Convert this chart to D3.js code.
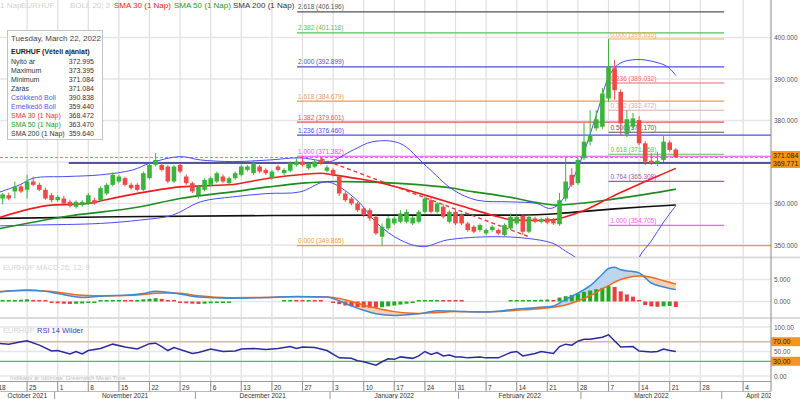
<!DOCTYPE html>
<html>
<head>
<meta charset="utf-8">
<title>EURHUF napi</title>
<script src="https://d3js.org/d3.v7.min.js"></script>
<style>
  body { margin: 0; background: #fff; }
  svg { font-family: "Liberation Sans", Arial, sans-serif; }
</style>
</head>
<body>
<script>

// ---------- data ----------
// daily candles, index 0 = 2021-10-18 ... index 111 = 2022-03-22
var open = [361.0,361.2,362.0,362.9,364.1,363.3,365.3,364.5,363.3,362.0,
  360.8,361.2,360.4,359.2,359.6,360.0,360.8,360.8,362.4,364.5,
  365.3,366.1,364.5,364.5,363.3,366.1,369.3,369.3,368.9,365.3,
  369.3,366.5,364.9,362.0,363.3,364.5,365.3,366.5,364.9,366.1,
  366.9,368.1,367.3,368.9,368.1,366.1,368.9,367.3,367.9,369.3,
  370.1,368.5,368.9,370.5,367.9,368.1,366.5,362.4,361.2,360.0,
  358.8,358.4,356.8,352.0,354.0,355.2,355.6,355.6,355.2,355.6,
  358.0,360.8,358.0,359.2,355.6,358.0,357.2,355.2,354.4,353.6,
  352.8,353.6,353.6,352.4,354.0,355.2,357.0,353.2,356.4,355.6,
  356.4,356.0,355.0,361.2,366.9,364.9,370.9,374.9,378.1,378.5,
  385.3,392.6,386.9,376.7,378.5,380.1,374.5,370.3,369.7,370.5,
  374.7,372.995];
var high = [362.6,362.5,362.6,365.3,364.6,366.9,366.5,365.0,363.8,362.5,
  362.0,361.8,360.9,360.8,360.8,362.5,361.4,364.1,364.9,367.5,
  366.9,366.5,365.0,364.9,367.7,369.7,372.2,369.8,369.3,369.3,
  369.7,367.0,365.3,364.5,366.1,366.5,367.7,367.0,366.5,367.7,
  369.3,369.3,370.5,369.3,368.5,368.1,369.3,368.5,370.1,370.9,
  371.5,369.9,370.5,371.3,369.2,368.5,366.9,362.9,361.6,360.4,
  359.2,358.9,357.2,355.2,357.0,356.9,358.4,358.6,357.0,358.4,
  362.0,361.4,360.4,359.8,358.4,358.5,357.6,355.6,354.8,355.2,
  354.0,354.8,354.0,355.2,357.6,357.2,357.4,357.2,356.8,356.6,
  356.8,356.5,362.5,371.3,368.5,371.0,379.4,382.5,382.5,387.8,
  399.635,394.6,387.5,382.5,381.8,381.0,375.0,372.1,372.5,376.3,
  375.2,373.395];
var low = [360.3,359.8,360.8,361.2,362.5,361.2,364.2,363.0,360.9,360.3,
  360.4,359.7,359.0,358.8,359.2,359.6,359.7,360.4,362.0,364.1,
  364.9,364.1,363.3,362.9,363.0,365.8,368.9,367.7,364.9,364.9,
  367.3,364.5,362.5,361.2,362.9,364.1,364.9,364.9,364.5,365.7,
  366.5,367.7,366.9,367.3,366.9,365.7,367.7,366.9,367.5,368.9,
  368.9,368.1,368.5,369.3,367.5,366.5,361.8,360.4,359.6,358.0,
  356.8,355.8,352.4,349.865,353.6,354.8,355.2,355.2,354.8,355.2,
  357.6,357.6,357.6,356.4,355.2,354.8,354.8,353.2,352.8,353.2,
  352.4,353.2,352.4,352.0,353.6,354.8,352.4,352.8,355.2,355.2,
  355.0,354.8,354.6,360.5,364.0,364.5,370.5,374.0,377.5,378.0,
  384.5,385.0,376.5,376.0,378.0,374.0,369.3,369.3,369.0,370.0,
  372.5,371.084];
var close = [362.0,362.2,361.2,364.1,362.9,365.3,364.5,363.3,361.2,360.8,
  361.6,360.0,359.4,360.4,360.4,362.0,360.0,363.7,364.5,366.9,
  366.5,364.5,363.7,363.3,367.3,369.3,370.5,368.1,365.3,368.9,
  367.7,364.9,362.9,364.1,365.7,366.1,367.3,365.3,366.1,367.3,
  368.9,368.9,369.7,367.7,367.3,367.7,368.1,368.1,369.7,370.1,
  369.3,369.5,370.1,369.7,368.7,366.9,362.4,360.8,360.0,358.4,
  357.2,356.4,352.8,354.4,356.4,356.4,357.6,358.0,356.6,358.0,
  361.2,358.0,360.0,356.8,358.0,355.2,355.2,353.6,353.2,354.8,
  353.6,354.4,352.8,354.8,356.8,356.8,353.2,356.8,355.6,356.2,
  355.4,355.2,360.8,365.3,364.5,370.5,374.9,376.5,380.3,386.5,
  393.0,387.3,379.3,380.3,380.5,374.5,370.1,369.7,370.3,374.9,
  372.9,371.084];

// overlays as [index, value]
var sma30 = [[0,356.4],[9,359.6],[15,360.0],[17.5,360.8],[24.5,362.8],[30,364.0],[38,364.5],
  [44.5,366.1],[50,367.0],[53,367.3],[55,366.9],[59,366.0],[63,364.9],[67,363.3],[71,361.6],
  [76,359.4],[81,357.2],[84.5,356.0],[88.5,355.9],[91,356.1],[93,356.8],[96,358.3],
  [100.5,361.6],[103,363.3],[106,365.3],[108.5,366.9],[111,368.472]];
var sma50 = [[0,353.8],[11,356.8],[23.5,359.2],[30,361.2],[38.5,362.8],[44.5,364.0],[50,364.9],
  [55,365.3],[60,365.2],[65,364.9],[70,364.4],[74,363.8],[78,362.8],[81,362.2],[85,361.2],
  [88,360.3],[91.5,359.6],[95,360.0],[100.5,361.0],[106,362.2],[111,363.47]];
var sma200 = [[0,356.4],[20,356.8],[45,357.1],[63,357.2],[85,357.2],[92,357.6],[96,358.1],
  [101,358.7],[106,359.2],[111,359.64]];
var bollUpper = [[0,362.5],[3.8,364.5],[6,366.1],[11.5,366.5],[17,366.9],[22.3,368.1],[25,369.7],
  [30,371.3],[33.3,370.5],[38.6,370.1],[44.7,370.5],[49.6,371.0],[53,370.3],[54.5,370.1],
  [58.3,372.9],[61.5,374.9],[65.9,374.5],[70.3,368.9],[74.6,363.3],[78.5,360.8],[83.9,360.4],
  [88.3,360.0],[90.4,358.8],[92,360.0],[95.3,369.7],[98.1,381.7],[100.2,391.0],[101.9,393.8],
  [104.6,394.7],[107.3,394.2],[109.6,393.0],[111,390.838]];
var bollLower = [[0,354.6],[6,354.8],[17,355.2],[23.4,356.0],[28.8,357.2],[33.3,360.4],[38.6,361.6],
  [44.2,362.4],[49.6,362.8],[53.3,365.1],[54.9,364.9],[58.9,360.8],[62.2,355.2],[66,351.2],
  [69.7,349.6],[73.6,351.2],[81.1,352.0],[86.7,351.6],[90.9,350.4],[93,348.5],[95,346.5],
  [97,342],[100,336],[103,338],[105,347.0],[107,351],[109,355.5],[111,359.44]];

var trendLine = [[53,370.8],[87,352.0]];
var supportLevel = 369.771, supportFrom = 11.8;
var lastPrice = 371.084;

// fibonacci extension (from 349.865 / 371.382) and retracement (399.635 -> 354.705)
var fibExtRatio = [2.618, 2.382, 2.0, 1.618, 1.382, 1.236, 1.0, 0.0];
var fibExtValue = [406.196, 401.118, 392.899, 384.679, 379.601, 376.460, 371.382, 349.865];
var fibExtColor = ["#555555", "#55c355", "#4d4dee", "#ee9a58", "#ea4f4f", "#4d4dee", "#ff44ff", "#f39a3c"];
var fibRetRatio = [0.0, 0.236, 0.382, 0.5, 0.618, 0.764, 1.0];
var fibRetValue = [399.635, 389.032, 382.472, 377.170, 371.868, 365.308, 354.705];
var fibRetColor = ["#f6ad5c", "#ec6a6a", "#d9b0b0", "#555555", "#5cbf5c", "#aa55aa", "#f45cf4"];

// MACD 26;12;9
var macdIdx = [0,5,8,10,14,18,21,24,26,28,30,33,38,44,49,54,56,58,60,62,65,67,69,72,75,
  79,82,85,88,91,93,95,97,99,100,101,102,104,105,107,109,111];
var macdLine = [2.1,2.6,2.3,1.8,0.9,1.3,1.4,1.8,2.35,2.1,1.7,1.0,0.75,0.9,1.15,1.0,0.1,-1.0,-2.0,-2.8,
  -3.2,-3.0,-2.8,-2.1,-2.2,-2.4,-2.2,-1.7,-1.4,-1.0,0.5,1.9,3.6,6.2,7.5,7.8,7.2,6.8,6.5,4.2,3.3,2.7];
var signalLine = [2.25,2.5,2.4,2.1,1.4,1.25,1.35,1.6,1.85,1.95,1.85,1.3,0.85,0.9,1.1,1.0,0.7,0.0,-0.8,-1.5,
  -2.3,-2.6,-2.7,-2.5,-2.3,-2.35,-2.3,-2.0,-1.7,-1.3,-0.8,0.1,1.3,2.9,3.6,4.4,5.0,5.7,5.8,5.5,4.7,4.0];
var macdHist = [0.2,0.25,0.3,0.35,0.4,0.5,0.35,0.2,0.05,-0.2,
  -0.4,-0.5,-0.55,-0.5,-0.45,-0.35,-0.2,0.05,0.15,0.25,
  0.3,0.25,0.2,0.35,0.5,0.6,0.75,0.6,0.35,0.1,
  -0.2,-0.4,-0.5,-0.55,-0.5,-0.4,-0.3,-0.15,-0.05,0,
  0,0,0,0,0,0,0,0.08,0.12,0.1,
  0.05,0.08,0.05,0.02,0,-0.3,-0.6,-0.9,-1.1,-1.25,
  -1.35,-1.4,-1.45,-1.3,-1.1,-0.9,-0.7,-0.5,-0.3,0.05,
  0.2,0.3,0.35,0.25,0.2,0.15,0.1,0,0,0,
  0,0,0,0,0.1,0.2,0.25,0.3,0.35,0.4,
  0.45,0.35,0.9,1.2,1.5,1.8,2.2,2.5,2.8,3.1,
  3.5,3.3,2.3,1.6,1.1,0.15,-0.8,-1.1,-1.2,-1.1,
  -1.0,-1.25];

// RSI 14 Wilder
var rsi = [[0,67],[2,65],[4,70],[5,72],[7,63],[9,51],[10,52],[12,45],[13,50],[14,45],[15,52],[17,56],
  [19,65],[21,59],[23,55],[25,66],[26,67],[27,60],[28,52],[29,58],[32,46],[33,48],[35,55],[37,50],
  [39,51],[40,55],[42,56],[44,54],[46,56],[48,60],[49,56],[50,59],[52,58],[54,52],[56,37],[58,36],
  [59,31],[60,29],[62,22],[63,29],[64,35],[65,34],[66,39],[68,36],[69,41],[70,50],[71,44],[72,48],
  [73,41],[74,43],[75,39],[76,39],[77,37],[79,39],[80,37],[82,37],[84,48],[85,50],[86,41],[88,46],
  [89,50],[91,46],[92,60],[93,65],[94,63],[95,71],[96,75],[97,75],[99,79],[100,84],[102,59],[104,60],
  [105,51],[107,49],[108,50],[109,55],[110,52],[111,50]];

// axis
var priceTicks = [350, 360, 370, 380, 390, 400];
var dayTicks = [0,5,10,15,20,25,30,35,40,45,50,55,60,65,70,75,80,85,90,95,100,105,110,115,122];
var dayLabels = ["18","25","1","8","15","22","29","6","13","20","27","3","10","17","24","31",
  "7","14","21","28","7","14","21","28","4"];
var monthBreaks = [9.5, 32.5, 54.5, 75.5, 95.5, 118.5];
var monthLabels = ["October 2021","November 2021","December 2021","January 2022",
  "February 2022","March 2022","April 2022"];

var legendNames = ["Nyitó ár","Maximum","Minimum","Zárás","Csökkenő Boll","Emelkedő Boll",
  "SMA 30  (1 Nap)","SMA 50  (1 Nap)","SMA 200  (1 Nap)"];
var legendValues = ["372.995","373.395","371.084","371.084","390.838","359.440","368.472","363.470","359.640"];
var legendColors = ["#333","#333","#333","#333","#5555ee","#5555ee","#ee3333","#229922","#333"];

// ---------- layout ----------
var width = 800, height = 399, plotRight = 771;
var green = "#3cb43c", red = "#ef4a4a";

var x = d3.scaleLinear().domain([0, 115]).range([-3.5, 700.3]);
var yP = d3.scaleLinear().domain([350, 400]).range([245, 37.5]);
var yM = d3.scaleLinear().domain([0, 5]).range([301.5, 279.5]);
var yR = d3.scaleLinear().domain([0, 100]).range([376, 327]);

var svg = d3.select("body").append("svg")
  .attr("width", width)
  .attr("height", height);

var defs = svg.append("defs");
function clip(id, y0, y1) {
  defs.append("clipPath").attr("id", id).append("rect")
    .attr("x", 0).attr("y", y0).attr("width", plotRight).attr("height", y1 - y0);
}
clip("clipMain", 0, 257);
clip("clipMacd", 259, 317);
clip("clipRsi", 320, 381);
clip("clipAxis", 380, 399);

// grid
var grid = svg.append("g");
grid.selectAll(".vg").data(dayTicks).enter().append("line")
  .attr("x1", function(d){ return x(d); }).attr("x2", function(d){ return x(d); })
  .attr("y1", 0).attr("y2", 391.5)
  .style("stroke", "#dedede").style("stroke-width", 1.2);
grid.selectAll(".hg").data(priceTicks).enter().append("line")
  .attr("x1", 0).attr("x2", plotRight)
  .attr("y1", function(d){ return yP(d); }).attr("y2", function(d){ return yP(d); })
  .style("stroke", "#e6e6e6").style("stroke-width", 1.5);
[0, 5].forEach(function(v){
  grid.append("line").attr("x1", 0).attr("x2", plotRight).attr("y1", yM(v)).attr("y2", yM(v))
    .style("stroke", "#e6e6e6").style("stroke-width", 1.5);
});
[0, 50, 100].forEach(function(v){
  grid.append("line").attr("x1", 0).attr("x2", plotRight).attr("y1", yR(v)).attr("y2", yR(v))
    .style("stroke", "#e6e6e6").style("stroke-width", 1.5);
});
// panel separators
[257.5, 318].forEach(function(y){
  grid.append("line").attr("x1", 0).attr("x2", width).attr("y1", y).attr("y2", y)
    .style("stroke", "#dcdcdc").style("stroke-width", 2);
});

// ---------- main panel ----------
var main = svg.append("g").attr("clip-path", "url(#clipMain)");

var idxLine = function(scale) {
  return d3.line().x(function(d){ return x(d[0]); }).y(function(d){ return scale(d[1]); });
};

// fibonacci lines
var longExt = [1.236, 1.0, 0.0];
fibExtRatio.forEach(function(r, k) {
  var yy = yP(fibExtValue[k]);
  main.append("line")
    .attr("x1", x(49.1)).attr("x2", longExt.indexOf(r) >= 0 ? plotRight : x(118.9))
    .attr("y1", yy).attr("y2", yy)
    .style("stroke", fibExtColor[k]).style("stroke-width", 1.2);
  main.append("text").attr("x", x(49.1) + 1).attr("y", yy - 2.5)
    .style("font-size", "6.5px").style("fill", fibExtColor[k])
    .text(d3.format(".3f")(r) + " (" + d3.format(".3f")(fibExtValue[k]) + ")");
});
fibRetRatio.forEach(function(r, k) {
  var yy = yP(fibRetValue[k]);
  main.append("line")
    .attr("x1", x(100)).attr("x2", x(118.9))
    .attr("y1", yy).attr("y2", yy)
    .style("stroke", fibRetColor[k]).style("stroke-width", 1.2);
  main.append("text").attr("x", x(100) + 2).attr("y", yy - 2.5)
    .style("font-size", "6.5px").style("fill", fibRetColor[k])
    .text(d3.format(".3f")(r) + " (" + d3.format(".3f")(fibRetValue[k]) + ")");
});

// support line and last price
main.append("line")
  .attr("x1", x(supportFrom)).attr("x2", plotRight)
  .attr("y1", yP(supportLevel)).attr("y2", yP(supportLevel))
  .style("stroke", "#1d2380").style("stroke-width", 1.6);
main.append("line")
  .attr("x1", 0).attr("x2", plotRight)
  .attr("y1", yP(lastPrice)).attr("y2", yP(lastPrice))
  .style("stroke", "#f07a7a").style("stroke-width", 1).style("stroke-dasharray", "3,2");

// moving averages and bollinger
var curve = d3.curveMonotoneX;
main.append("path").attr("d", idxLine(yP).curve(curve)(sma200))
  .style("fill", "none").style("stroke", "#111").style("stroke-width", 1.6);
main.append("path").attr("d", idxLine(yP).curve(curve)(sma50))
  .style("fill", "none").style("stroke", "#1e8c1e").style("stroke-width", 1.6);
main.append("path").attr("d", idxLine(yP).curve(curve)(sma30))
  .style("fill", "none").style("stroke", "#ee1c1c").style("stroke-width", 1.6);
[bollUpper, bollLower].forEach(function(b){
  main.append("path").attr("d", idxLine(yP).curve(d3.curveCatmullRom)(b))
    .style("fill", "none").style("stroke", "#4a4af2").style("stroke-width", 1);
});

// trend line
main.append("path").attr("d", idxLine(yP)(trendLine))
  .style("fill", "none").style("stroke", "#e23a3a").style("stroke-width", 1.4)
  .style("stroke-dasharray", "4,3");

// candles
var candles = main.selectAll(".candle").data(open).enter().append("g");
candles.append("line")
  .attr("x1", function(d, i){ return x(i); }).attr("x2", function(d, i){ return x(i); })
  .attr("y1", function(d, i){ return yP(high[i]); })
  .attr("y2", function(d, i){ return yP(low[i]); })
  .style("stroke", function(d, i){ return close[i] >= open[i] ? green : red; })
  .style("stroke-width", 1);
candles.append("rect")
  .attr("x", function(d, i){ return x(i) - 2.3; })
  .attr("width", 4.6)
  .attr("y", function(d, i){ return yP(Math.max(open[i], close[i])); })
  .attr("height", function(d, i){ return Math.max(1, Math.abs(yP(open[i]) - yP(close[i]))); })
  .style("fill", function(d, i){ return close[i] >= open[i] ? green : red; });

// ---------- MACD panel ----------
var macd = svg.append("g").attr("clip-path", "url(#clipMacd)");
var mPts = macdIdx.map(function(d, k){ return { i: d, m: macdLine[k], s: signalLine[k] }; });

macd.append("path").datum(mPts)
  .attr("d", d3.area().curve(curve)
    .x(function(d){ return x(d.i); })
    .y0(function(d){ return yM(d.s); })
    .y1(function(d){ return yM(Math.max(d.m, d.s)); }))
  .style("fill", "#bcd6ef");
macd.append("path").datum(mPts)
  .attr("d", d3.area().curve(curve)
    .x(function(d){ return x(d.i); })
    .y0(function(d){ return yM(d.s); })
    .y1(function(d){ return yM(Math.min(d.m, d.s)); }))
  .style("fill", "#f9cfb3");

// histogram, coloured by direction vs previous bar
var histBars = macdHist.map(function(v, i){
  return { i: i, v: v, up: i === 0 || v >= macdHist[i - 1] };
}).filter(function(d){ return Math.abs(d.v) > 0.01; });

macd.selectAll(".hist").data(histBars).enter().append("rect")
  .attr("x", function(d){ return x(d.i) - 2; })
  .attr("width", 4)
  .attr("y", function(d){ return d.v >= 0 ? Math.min(yM(d.v), yM(0) - 1.5) : yM(0); })
  .attr("height", function(d){ return Math.max(1.5, Math.abs(yM(d.v) - yM(0))); })
  .style("fill", function(d){ return d.up ? "#1faa1f" : "#ee3b3b"; });

macd.append("path").datum(mPts)
  .attr("d", d3.line().curve(curve).x(function(d){ return x(d.i); }).y(function(d){ return yM(d.s); }))
  .style("fill", "none").style("stroke", "#f06a1a").style("stroke-width", 1.5);
macd.append("path").datum(mPts)
  .attr("d", d3.line().curve(curve).x(function(d){ return x(d.i); }).y(function(d){ return yM(d.m); }))
  .style("fill", "none").style("stroke", "#3a8ad6").style("stroke-width", 1.5);

// ---------- RSI panel ----------
var rsiG = svg.append("g").attr("clip-path", "url(#clipRsi)");
rsiG.append("line").attr("x1", 0).attr("x2", plotRight).attr("y1", yR(70)).attr("y2", yR(70))
  .style("stroke", "#f6a8a8").style("stroke-width", 1.5);
rsiG.append("line").attr("x1", 0).attr("x2", plotRight).attr("y1", yR(30)).attr("y2", yR(30))
  .style("stroke", "#4cc24c").style("stroke-width", 1.2);
rsiG.append("path").attr("d", idxLine(yR)(rsi))
  .style("fill", "none").style("stroke", "#2a2a9c").style("stroke-width", 1.5);

// ---------- right axis ----------
svg.append("line").attr("x1", plotRight).attr("x2", plotRight).attr("y1", 0).attr("y2", 391.5)
  .style("stroke", "#888").style("stroke-width", 1);

var axisText = function(y, t) {
  svg.append("text").attr("x", plotRight + 3).attr("y", y + 2.5)
    .style("font-size", "6.5px").style("fill", "#555").text(t);
};
priceTicks.forEach(function(v){ axisText(yP(v), d3.format(".3f")(v)); });
[5, 0].forEach(function(v){ axisText(yM(v), d3.format(".3f")(v)); });
[100, 50, 0].forEach(function(v){ axisText(yR(v), d3.format(".2f")(v)); });

function tag(y, t) {
  svg.append("rect").attr("x", plotRight).attr("y", y - 4.5).attr("width", 29).attr("height", 9)
    .style("fill", "#f7941d");
  svg.append("text").attr("x", plotRight + 2).attr("y", y + 2.5)
    .style("font-size", "7px").style("fill", "#222").text(t);
}
tag(yP(lastPrice) - 2, d3.format(".3f")(lastPrice));
tag(yP(supportLevel) + 0.5, d3.format(".3f")(supportLevel));
tag(yR(70), "70.00");
tag(yR(30), "30.00");

// ---------- date axis ----------
svg.append("line").attr("x1", 0).attr("x2", plotRight).attr("y1", 381.5).attr("y2", 381.5)
  .style("stroke", "#999");
svg.append("line").attr("x1", 0).attr("x2", plotRight).attr("y1", 391.5).attr("y2", 391.5)
  .style("stroke", "#bbb");
var axisG = svg.append("g").attr("clip-path", "url(#clipAxis)");
axisG.selectAll(".day").data(dayTicks).enter().append("line")
  .attr("x1", function(d){ return x(d); }).attr("x2", function(d){ return x(d); })
  .attr("y1", 381.5).attr("y2", 391.5).style("stroke", "#999");
axisG.selectAll(".dayt").data(dayTicks).enter().append("text")
  .attr("x", function(d){ return x(d) + 2; }).attr("y", 389.5)
  .style("font-size", "6.5px").style("fill", "#333")
  .text(function(d, i){ return dayLabels[i]; });
axisG.selectAll(".mb").data(monthBreaks).enter().append("line")
  .attr("x1", function(d){ return x(d); }).attr("x2", function(d){ return x(d); })
  .attr("y1", 391.5).attr("y2", 399).style("stroke", "#999");
var bounds = [0].concat(monthBreaks.map(function(d){ return x(d); })).concat([width]);
axisG.selectAll(".mt").data(monthLabels).enter().append("text")
  .attr("x", function(d, i){ return (bounds[i] + bounds[i + 1]) / 2; })
  .attr("y", 398).attr("text-anchor", "middle")
  .style("font-size", "6.5px").style("fill", "#333")
  .text(function(d){ return d; });

// ---------- titles ----------
function txt(xx, yy, t, col, size, weight) {
  return svg.append("text").attr("x", xx).attr("y", yy)
    .style("font-size", size || "8px").style("fill", col)
    .style("font-weight", weight || "normal").text(t);
}
txt(0, 8, "1 Nap", "#d2d2d2");
txt(21, 8, "EURHUF", "#d2d2d2");
txt(70, 8, "BOLL 20; 2", "#d2d2d2");
txt(114, 8, "SMA 30  (1 Nap)", "#ee2222");
txt(174, 8, "SMA 50  (1 Nap)", "#229922");
txt(233, 8, "SMA 200  (1 Nap)", "#333");

txt(3, 270, "EURHUF  MACD 26; 12; 9", "#d4d4d4", "7.5px");
txt(3, 333, "EURHUF", "#d4d4d4", "7.5px");
txt(37, 333, "RSI 14 Wilder", "#3b3bc0", "7.5px");
txt(10, 380, "Indikatív ár    Időzóna: Greenwich Mean Time", "#bdbdbd", "6px");

// ---------- info box ----------
svg.append("rect").attr("x", 7.5).attr("y", 30.5).attr("width", 95).attr("height", 109)
  .style("fill", "#fff").style("stroke", "#c4c4c4");
txt(11, 41, "Tuesday, March 22, 2022", "#444", "8px");
txt(11, 54, "EURHUF (Vételi ajánlat)", "#222", "7px", "bold");
legendNames.forEach(function(n, k){
  txt(11, 64 + k * 9, n, legendColors[k], "7px");
  txt(94, 64 + k * 9, legendValues[k], "#333", "7px").attr("text-anchor", "end");
});

</script>
</body>
</html>
